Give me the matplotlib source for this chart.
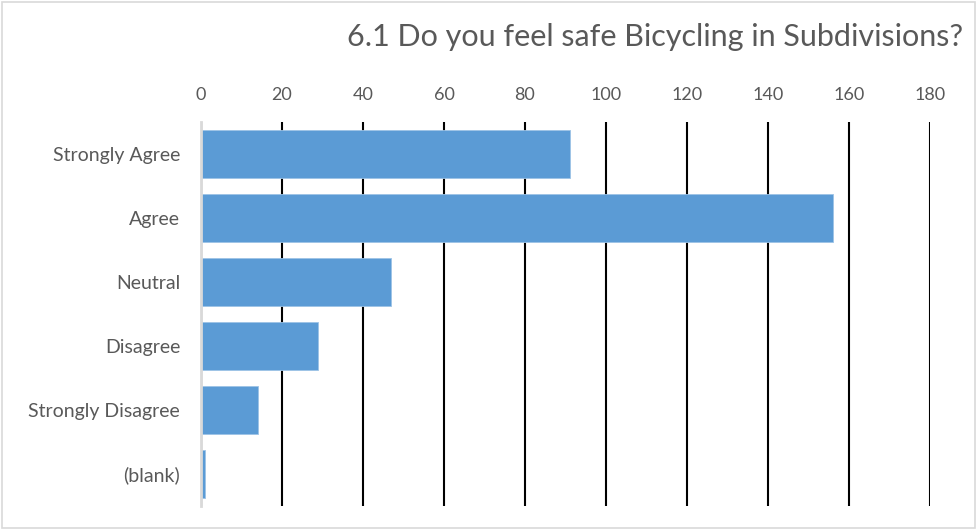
import matplotlib
matplotlib.use("Agg")
import matplotlib.pyplot as plt
from matplotlib.patches import Rectangle

categories = ["Strongly Agree", "Agree", "Neutral", "Disagree", "Strongly Disagree", "(blank)"]
counts = [91, 156, 47, 29, 14, 1]
x_ticks = [0, 20, 40, 60, 80, 100, 120, 140, 160, 180]

plt.rcParams["font.family"] = ["Lato", "DejaVu Sans"]

fig = plt.figure(figsize=(9.77, 5.3), dpi=100)
ax = fig.add_axes([0.2057, 0.0453, 0.7462, 0.7245])

ypos = list(range(len(categories)))
ax.barh(ypos, counts, height=0.76, color="#5B9BD5", edgecolor="#9DC3E6", linewidth=0.6, zorder=3)

ax.set_xlim(0, 180)
ax.set_ylim(len(categories) - 0.5, -0.5)
ax.set_yticks(ypos)
ax.set_yticklabels(categories)
ax.set_xticks(x_ticks)
ax.xaxis.tick_top()
ax.tick_params(axis="x", length=0, labelsize=13, colors="#595959", pad=14)
ax.tick_params(axis="y", length=0, labelsize=14, colors="#595959", pad=15)
ax.grid(axis="x", color="black", linewidth=1.5, zorder=1)

for side in ["top", "right", "bottom"]:
    ax.spines[side].set_visible(False)
ax.spines["left"].set_color("#D9D9D9")
ax.spines["left"].set_linewidth(2)
ax.spines["left"].set_zorder(4)

fig.text(0.986, 0.93, "6.1 Do you feel safe Bicycling in Subdivisions?",
         ha="right", va="center", fontsize=22, color="#595959")

fig.patches.append(Rectangle((0.002, 0.003), 0.996, 0.994, transform=fig.transFigure,
                             fill=False, edgecolor="#D9D9D9", linewidth=1.2))

fig.savefig("out.png", dpi=100)
